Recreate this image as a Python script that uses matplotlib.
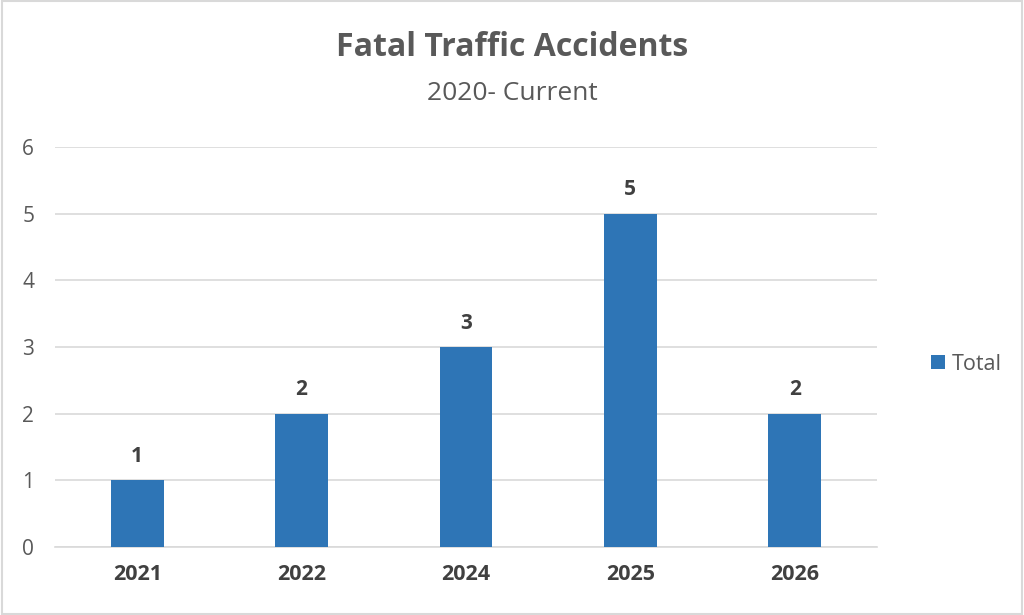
import matplotlib.pyplot as plt
import numpy as np

years = ["2021", "2022", "2024", "2025", "2026"]
totals = [1, 2, 3, 5, 2]
series_name = "Total"


def main():
    plt.rcParams["font.family"] = ["Open Sans", "DejaVu Sans"]
    fig = plt.figure(figsize=(10.24, 6.15), dpi=100)
    ax = fig.add_axes([55 / 1024, 1 - 547 / 615, 822 / 1024, 400 / 615])

    x = np.arange(len(years))
    bars = ax.bar(x, totals, width=0.32, color="#2E75B6", label=series_name, zorder=3)

    for rect, v in zip(bars, totals):
        ax.text(rect.get_x() + rect.get_width() / 2, v + 0.2, str(v),
                ha="center", va="bottom", fontsize=15, fontweight="bold", color="#404040")

    ax.set_xlim(-0.5, len(years) - 0.5)
    ax.set_ylim(0, 6)
    ax.set_yticks(range(7))
    ax.set_xticks(x)
    ax.set_xticklabels(years, fontweight="bold", fontsize=15.5, color="#404040")
    ax.tick_params(axis="y", labelsize=15, labelcolor="#595959", length=0, pad=15)
    ax.tick_params(axis="x", length=0, pad=12)
    ax.grid(axis="y", color="#d9d9d9", linewidth=1.2, zorder=0)
    for side in ["top", "right", "left"]:
        ax.spines[side].set_visible(False)
    ax.spines["bottom"].set_color("#d9d9d9")
    ax.spines["bottom"].set_linewidth(1.2)

    fig.text(0.5, 1 - 48 / 615, "Fatal Traffic Accidents", ha="center", va="center",
             fontsize=23, fontweight="bold", color="#595959")
    fig.text(0.5, 1 - 93 / 615, "2020- Current", ha="center", va="center",
             fontsize=19, color="#595959")

    fig.legend(loc="center left", bbox_to_anchor=(912 / 1024, 1 - 364 / 615), frameon=False,
               fontsize=15.5, handlelength=0.65, handleheight=0.65, handletextpad=0.3,
               labelcolor="#595959")

    border = plt.Rectangle((0.002, 0.002), 0.996, 0.996, transform=fig.transFigure,
                           fill=False, edgecolor="#d9d9d9", linewidth=1.5)
    fig.patches.append(border)

    fig.savefig("out.png", dpi=100)


if __name__ == "__main__":
    main()
